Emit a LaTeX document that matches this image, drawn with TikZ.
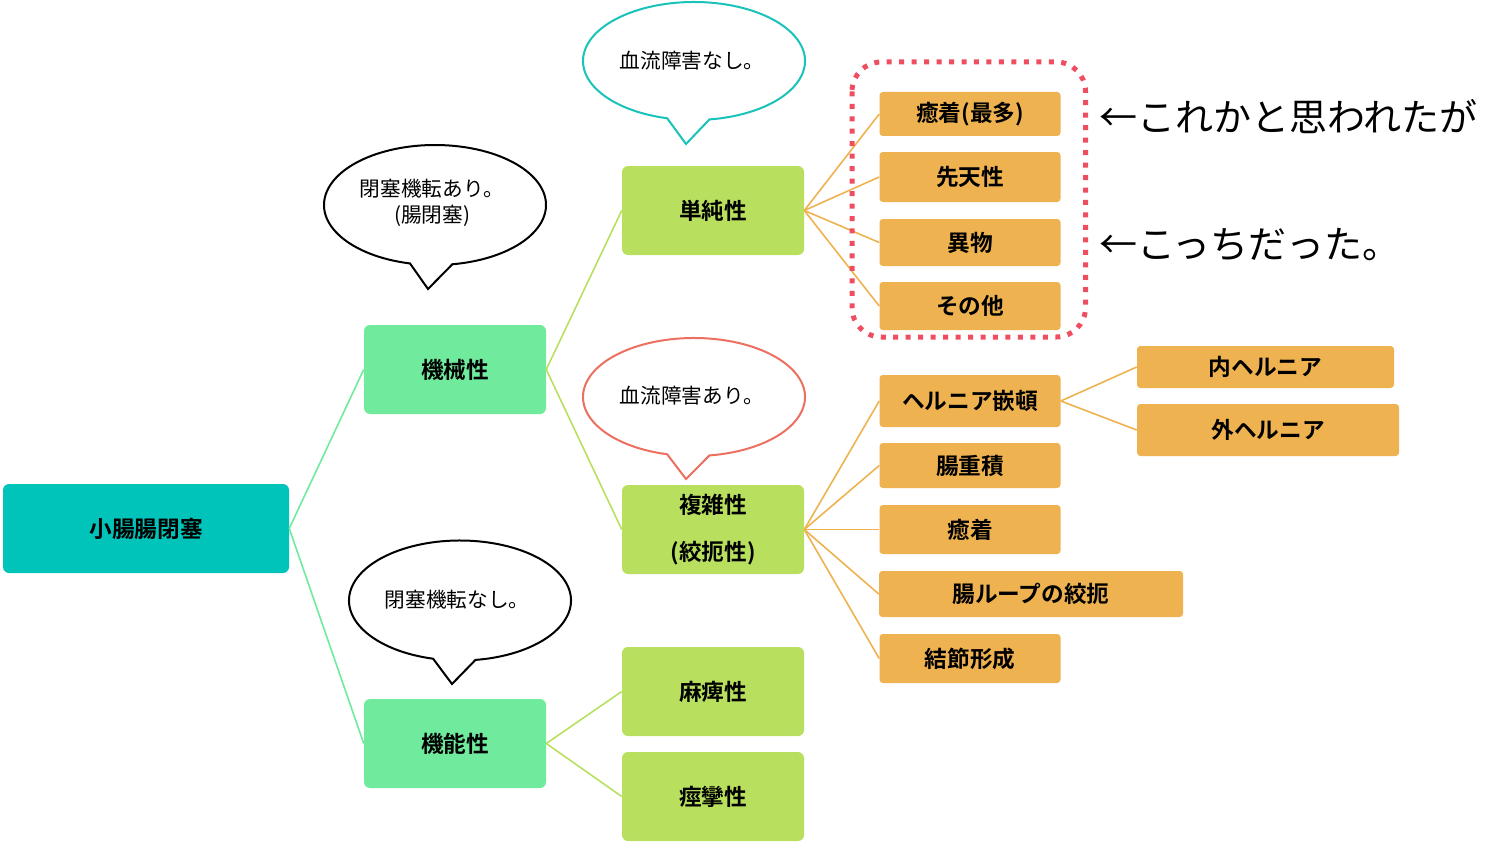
\documentclass[tikz,border=0pt]{standalone}
\usepackage{fontspec}
\setmainfont{Noto Sans CJK JP}[BoldFont={Noto Sans CJK JP Bold}]
\definecolor{cRoot}{RGB}{0,196,185}
\definecolor{cMint}{RGB}{112,234,157}
\definecolor{cLime}{RGB}{184,224,94}
\definecolor{cOrange}{RGB}{238,178,80}
\definecolor{cTeal}{RGB}{26,195,185}
\definecolor{cSalmon}{RGB}{236,112,96}
\definecolor{cDot}{RGB}{238,78,95}
\begin{document}
\begin{tikzpicture}[x=0.75pt,y=-0.75pt,
  box/.style={inner sep=0pt, font=\fontsize{17}{20}\selectfont\bfseries, rounded corners=4.5pt, align=center},
  lvlzero/.style={box, fill=cRoot, minimum width=214.5pt, minimum height=66.75pt},
  lvlone/.style={box, fill=cMint, minimum width=136.5pt, minimum height=66.75pt},
  lvltwo/.style={box, fill=cLime, minimum width=136.5pt, minimum height=66.75pt},
  leaf/.style={box, fill=cOrange, rounded corners=2.5pt, minimum width=135.75pt},
  link/.style={line width=1.2pt},
  bubble/.style={line width=1.5pt, fill=white, line join=miter},
  btext/.style={inner sep=0pt, font=\fontsize{15.5}{19.5}\selectfont, align=center},
  note/.style={inner sep=0pt, anchor=west, font=\fontsize{28.5}{32}\selectfont}
]
\useasboundingbox (0,0) rectangle (1504,849);

% nodes
\node[lvlzero] (root) at (146,528.5) {小腸腸閉塞};
\node[lvlone] (mech) at (455,369.5) {機械性};
\node[lvlone] (func) at (455,743.5) {機能性};
\node[lvltwo] (simple) at (713,210.5) {単純性};
\node[lvltwo, font=\fontsize{17}{35.25}\selectfont\bfseries] (complex) at (713,529.5) {複雑性\\(絞扼性)};
\node[lvltwo] (paral) at (713,691.5) {麻痺性};
\node[lvltwo] (spas) at (713,796.5) {痙攣性};

\node[leaf, minimum height=33pt] (sa) at (970,114) {癒着(最多)};
\node[leaf, minimum height=37.5pt] (sb) at (970,177) {先天性};
\node[leaf, minimum height=35.25pt] (sc) at (970,242.5) {異物};
\node[leaf, minimum height=36pt] (sd) at (970,306) {その他};

\node[leaf, minimum height=39pt] (ca) at (970,401) {ヘルニア嵌頓};
\node[leaf, minimum height=33.75pt] (cb) at (970,465.5) {腸重積};
\node[leaf, minimum height=36.75pt] (cc) at (970,529.5) {癒着};
\node[leaf, minimum width=228pt, minimum height=34.5pt] (cd) at (1031,594) {腸ループの絞扼};
\node[leaf, minimum height=36.75pt] (ce) at (970,658.5) {結節形成};

\node[leaf, minimum width=192.75pt, minimum height=31.5pt] (hin) at (1265.5,367) {内ヘルニア};
\node[leaf, minimum width=196.5pt, minimum height=39pt] (hout) at (1268,430) {外ヘルニア};

% connectors
\draw[link, cMint] (root.east) -- (mech.west);
\draw[link, cMint] (root.east) -- (func.west);
\draw[link, cLime] (mech.east) -- (simple.west);
\draw[link, cLime] (mech.east) -- (complex.west);
\draw[link, cLime] (func.east) -- (paral.west);
\draw[link, cLime] (func.east) -- (spas.west);
\foreach \t in {sa,sb,sc,sd} \draw[link, cOrange] (simple.east) -- (\t.west);
\foreach \t in {ca,cb,cc,cd,ce} \draw[link, cOrange] (complex.east) -- (\t.west);
\draw[link, cOrange] (ca.east) -- (hin.west);
\draw[link, cOrange] (ca.east) -- (hout.west);

% dotted frame
\draw[cDot, line width=3.75pt, dash pattern=on 3.75pt off 5.6pt, rounded corners=22pt]
  (852,62) rectangle (1085.5,337);

% speech bubbles
\draw[bubble, draw=cTeal] (694,61) ++(104:111 and 59) arc[start angle=104, end angle=442, x radius=111, y radius=59] -- (686,144) -- cycle;
\node[btext] (tnone) at (692,61) {血流障害なし。};

\draw[bubble, draw=black] (435,205) ++(103:111 and 60) arc[start angle=103, end angle=441, x radius=111, y radius=60] -- (428,289) -- cycle;
\node[btext] (bmech) at (432,203) {閉塞機転あり。\\(腸閉塞)};

\draw[bubble, draw=cSalmon] (694,397) ++(104:111 and 59) arc[start angle=104, end angle=442, x radius=111, y radius=59] -- (686,479) -- cycle;
\node[btext] (tsome) at (692,396) {血流障害あり。};

\draw[bubble, draw=black] (460,600.5) ++(104:111 and 60) arc[start angle=104, end angle=442, x radius=111, y radius=60] -- (452,684) -- cycle;
\node[btext] (bfunc) at (457,600) {閉塞機転なし。};

% notes
\node[note] (n1) at (1099,117) {←これかと思われたが};
\node[note] (n2) at (1099,245) {←こっちだった。};
\end{tikzpicture}
\end{document}
